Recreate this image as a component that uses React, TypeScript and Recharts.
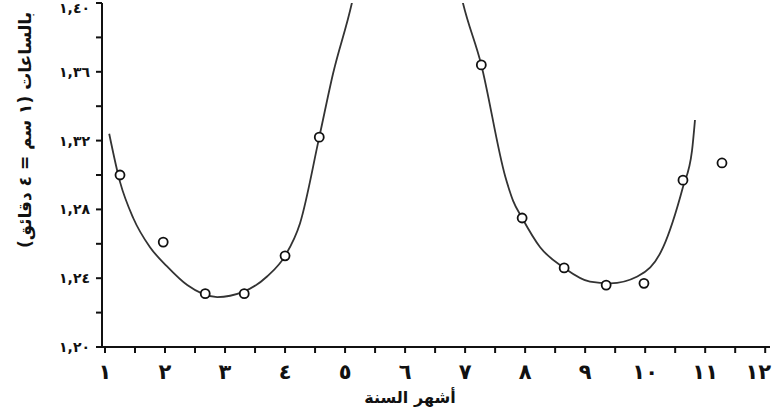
import React from 'react'
import { ComposedChart, Line, Scatter, XAxis, YAxis } from 'recharts'

// observed points (month, hours)
const obsMonths = [1.25, 1.97, 2.67, 3.32, 4.0, 4.57, 7.27, 7.95, 8.65, 9.35, 9.98, 10.63, 11.28]
const obsValues = [1.3, 1.261, 1.231, 1.231, 1.253, 1.322, 1.364, 1.275, 1.246, 1.236, 1.237, 1.297, 1.307]

// fitted curve
const curveMonths = [1.07, 1.25, 1.47, 1.75, 2.03, 2.37, 2.87, 3.3, 3.7, 4.0, 4.25, 4.57, 4.8, 5.12, 6.05, 6.95, 7.27, 7.67, 7.8, 7.95, 8.25, 8.65, 9.08, 9.42, 9.87, 10.3, 10.63, 10.78, 10.83]
const curveValues = [1.324, 1.296, 1.275, 1.258, 1.247, 1.236, 1.229, 1.232, 1.241, 1.253, 1.272, 1.322, 1.359, 1.401, 1.62, 1.402, 1.364, 1.299, 1.285, 1.275, 1.258, 1.246, 1.238, 1.237, 1.241, 1.258, 1.293, 1.314, 1.332]

const xTicks = [1, 1.5, 2, 2.5, 3, 3.5, 4, 4.5, 5, 5.5, 6, 6.5, 7, 7.5, 8, 8.5, 9, 9.5, 10, 10.5, 11, 11.5, 12]
const yTicks = [1.2, 1.22, 1.24, 1.26, 1.28, 1.3, 1.32, 1.34, 1.36, 1.38, 1.4]

const xTitle = 'أشهر السنة'
const yTitle = 'بالساعات (١ سم = ٤ دقائق)'

const obs = obsMonths.map((m, i) => ({ m, v: obsValues[i] }))
const curve = curveMonths.map((m, i) => ({ m, v: curveValues[i] }))

const arabic = (s: string) => s.replace(/\d/g, (d) => '٠١٢٣٤٥٦٧٨٩'[+d])
const font = '"DejaVu Sans", sans-serif'

const XTick = (props: any) => {
    const { x, y, payload } = props
    if (!Number.isInteger(payload.value)) return null
    // last label sits at the right edge
    const dx = payload.value === 12 ? -7 : 0
    return (
        <text x={x + dx} y={y + 24} textAnchor="middle" fontFamily={font} fontWeight="bold" fontSize={21} fill="#111">
            {arabic(String(payload.value))}
        </text>
    )
}

const YTick = (props: any) => {
    const { x, y, payload } = props
    if (Math.round(payload.value * 100) % 4 !== 0) return null
    const dy = payload.value >= 1.4 ? 10 : 5
    return (
        <text x={x - 4} y={y + dy} textAnchor="end" fontFamily={font} fontWeight="bold" fontSize={14} fill="#111">
            {arabic(payload.value.toFixed(2).replace('.', ','))}
        </text>
    )
}

const Ring = (props: any) => (
    <circle cx={props.cx} cy={props.cy} r={4.5} fill="#fff" stroke="#111" strokeWidth={1.8} />
)

export default function App() {
    return (
        <div style={{ position: 'absolute', left: 0, top: 0, background: '#fff' }}>
            <ComposedChart width={772} height={413} margin={{ top: 3, right: 2, bottom: 0, left: 0 }}>
                <XAxis
                    dataKey="m"
                    type="number"
                    domain={[0.95, 12.08]}
                    ticks={xTicks}
                    interval={0}
                    tick={<XTick />}
                    tickSize={6}
                    height={66}
                    stroke="#111"
                    strokeWidth={2}
                    label={() => (
                        <text x={410} y={403} textAnchor="middle" fontFamily={font} fontWeight="bold" fontSize={16} fill="#111">
                            {xTitle}
                        </text>
                    )}
                />
                <YAxis
                    dataKey="v"
                    type="number"
                    domain={[1.2, 1.4]}
                    allowDataOverflow
                    ticks={yTicks}
                    interval={0}
                    tick={<YTick />}
                    tickSize={6}
                    width={102}
                    stroke="#111"
                    strokeWidth={2}
                    label={() => (
                        <text x={31} y={130} transform="rotate(-90 31 130)" textAnchor="middle" fontFamily={font} fontWeight="bold" fontSize={17} fill="#111">
                            {yTitle}
                        </text>
                    )}
                />
                <Line
                    data={curve}
                    dataKey="v"
                    type="monotone"
                    stroke="#333"
                    strokeWidth={1.8}
                    dot={false}
                    isAnimationActive={false}
                />
                <Scatter data={obs} dataKey="v" shape={<Ring />} isAnimationActive={false} />
            </ComposedChart>
        </div>
    )
}
